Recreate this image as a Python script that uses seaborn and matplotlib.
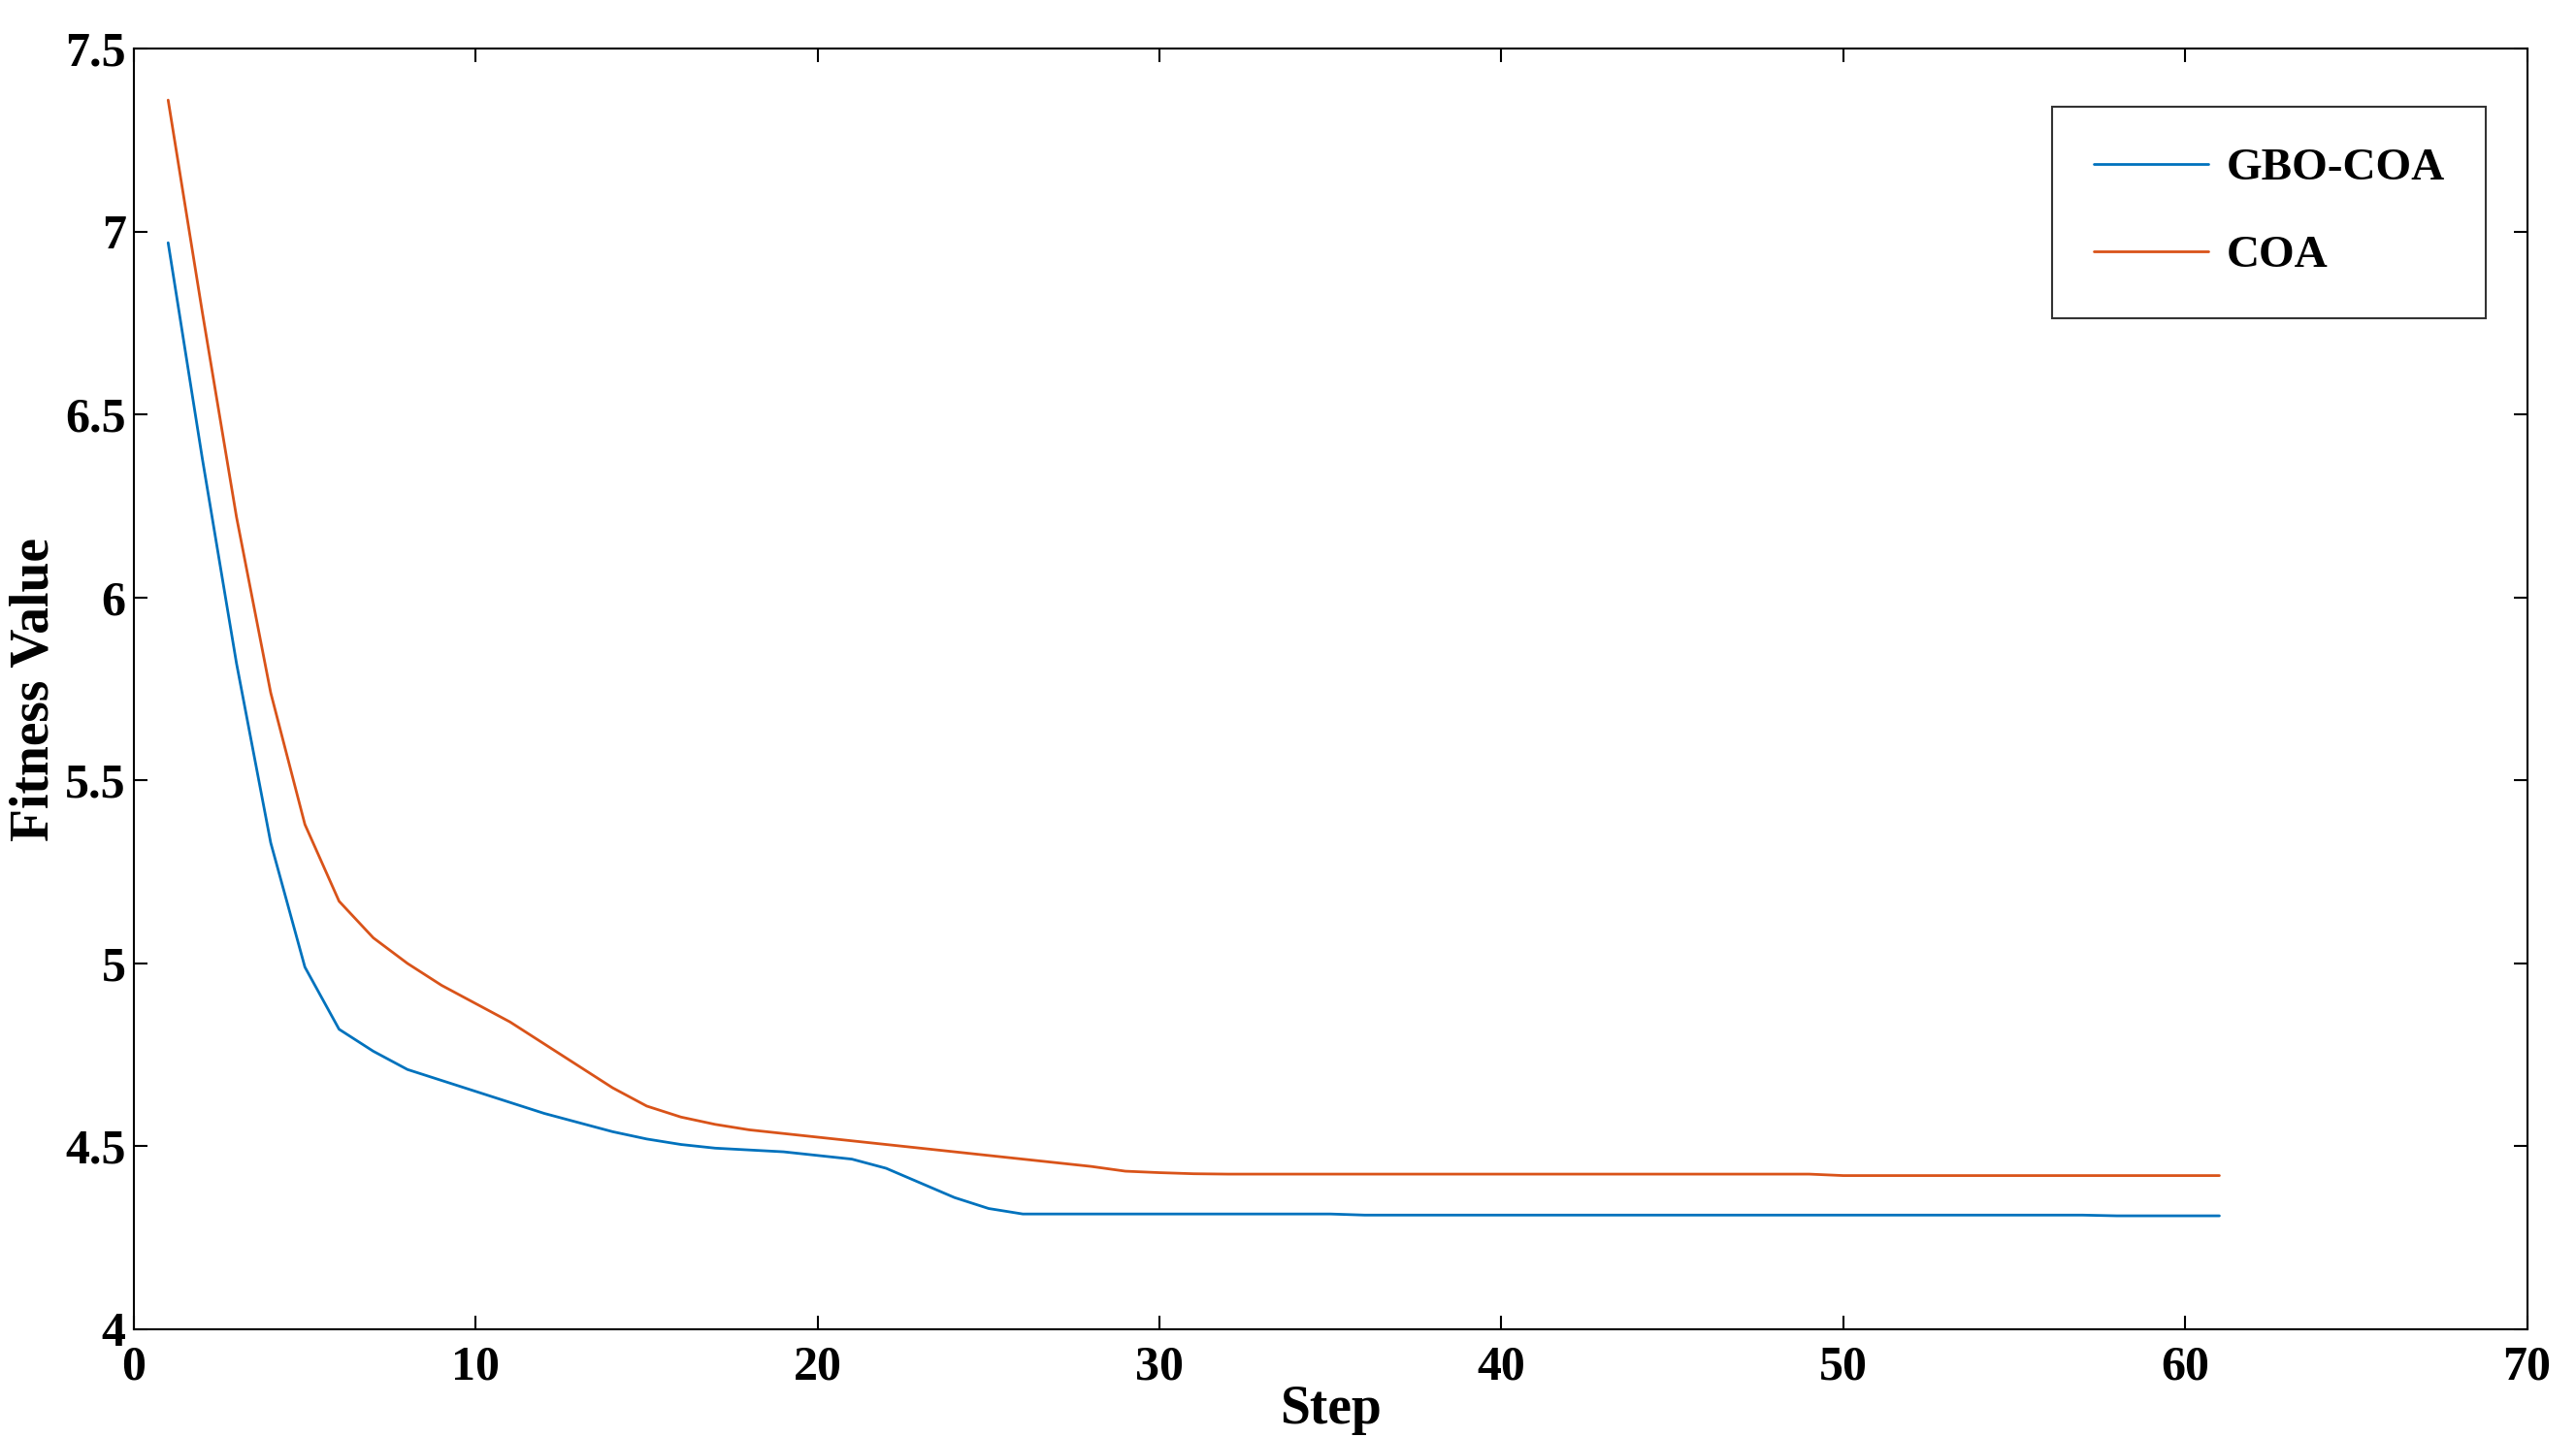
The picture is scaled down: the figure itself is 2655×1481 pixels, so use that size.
import numpy as np
import matplotlib
matplotlib.use("Agg")
import matplotlib.pyplot as plt
import seaborn as sns
import pandas as pd

# Data
steps = list(range(1, 62))
gbo_coa = [6.97, 6.38, 5.82, 5.33, 4.99, 4.82, 4.76, 4.71, 4.68, 4.65,
           4.62, 4.59, 4.565, 4.54, 4.52, 4.505, 4.495, 4.49, 4.485, 4.475,
           4.465, 4.44, 4.40, 4.36, 4.33, 4.315] + [4.315] * 9 + [4.312] * 22 + [4.31] * 4
coa = [7.36, 6.78, 6.22, 5.74, 5.38, 5.17, 5.07, 5.00, 4.94, 4.89,
       4.84, 4.78, 4.72, 4.66, 4.61, 4.58, 4.56, 4.545, 4.535, 4.525,
       4.515, 4.505, 4.495, 4.485, 4.475, 4.465, 4.455, 4.445, 4.432, 4.428,
       4.425] + [4.424] * 18 + [4.42] * 12

df = pd.DataFrame({"Step": steps * 2,
                   "Fitness": gbo_coa + coa,
                   "Algorithm": ["GBO-COA"] * 61 + ["COA"] * 61})

sns.set_theme(style="white")
plt.rcParams["font.family"] = ["Liberation Serif", "DejaVu Serif"]
plt.rcParams["font.weight"] = "bold"
plt.rcParams["text.color"] = "black"
plt.rcParams["axes.labelcolor"] = "black"
plt.rcParams["xtick.color"] = "black"
plt.rcParams["ytick.color"] = "black"

fig = plt.figure(figsize=(26.55, 14.81), dpi=100)
ax = fig.add_axes([0.052, 0.075, 0.929, 0.891])
sns.lineplot(data=df, x="Step", y="Fitness", hue="Algorithm",
             palette={"GBO-COA": "#0072BD", "COA": "#D95319"},
             linewidth=2, ax=ax)

ax.set_xlim(0, 70)
ax.set_ylim(4, 7.5)
ax.set_xticks(range(0, 71, 10))
ax.set_yticks([4, 4.5, 5, 5.5, 6, 6.5, 7, 7.5])
ax.set_yticklabels(["4", "4.5", "5", "5.5", "6", "6.5", "7", "7.5"])
ax.set_xlabel("Step", fontsize=40, fontweight="bold", labelpad=-4)
ax.set_ylabel("Fitness Value", fontsize=40, fontweight="bold", labelpad=4)
ax.tick_params(direction="in", length=10, width=1.5, labelsize=36,
               top=True, right=True, bottom=True, left=True)
ax.tick_params(axis="x", pad=12)
ax.tick_params(axis="y", pad=6)
for lbl in ax.get_xticklabels() + ax.get_yticklabels():
    lbl.set_fontweight("bold")
for s in ax.spines.values():
    s.set_color("black")
    s.set_linewidth(1.5)

leg = ax.legend(title=None, loc="upper right", fontsize=34, frameon=True,
                fancybox=False, edgecolor="black", borderpad=0.9,
                labelspacing=1.0, handlelength=2.5, handletextpad=0.4,
                bbox_to_anchor=(0.9925, 0.973))
leg.get_frame().set_linewidth(1.5)
for t in leg.get_texts():
    t.set_fontweight("bold")

fig.savefig("out.png", dpi=100, facecolor="white")
